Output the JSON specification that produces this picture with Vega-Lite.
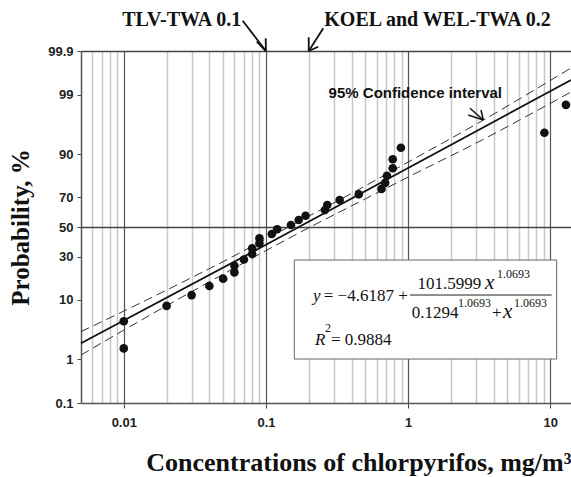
{
  "$schema": "https://vega.github.io/schema/vega-lite/v6.json",
  "width": 490,
  "height": 352,
  "autosize": {"type": "none"},
  "padding": {"left": 81, "top": 51, "right": 0, "bottom": 74},
  "background": "white",
  "config": {"view": {"stroke": null}},
  "datasets": {
    "points": [
      {"x": 0.01, "p": 4.9}, {"x": 0.01, "p": 1.65}, {"x": 0.02, "p": 8.3}, {"x": 0.03, "p": 11.6},
      {"x": 0.04, "p": 15.0}, {"x": 0.05, "p": 18.2}, {"x": 0.06, "p": 21.3}, {"x": 0.06, "p": 24.8},
      {"x": 0.07, "p": 28.4}, {"x": 0.08, "p": 31.8}, {"x": 0.08, "p": 35.4}, {"x": 0.09, "p": 38.7},
      {"x": 0.09, "p": 42.1}, {"x": 0.11, "p": 45.1}, {"x": 0.12, "p": 48.4}, {"x": 0.15, "p": 51.4},
      {"x": 0.17, "p": 54.9}, {"x": 0.19, "p": 57.8}, {"x": 0.26, "p": 61.7}, {"x": 0.27, "p": 65.0},
      {"x": 0.33, "p": 68.2}, {"x": 0.45, "p": 71.7}, {"x": 0.65, "p": 74.8}, {"x": 0.69, "p": 78.1},
      {"x": 0.71, "p": 81.6}, {"x": 0.78, "p": 84.9}, {"x": 0.78, "p": 88.3}, {"x": 0.89, "p": 91.8},
      {"x": 9.1, "p": 95.1}, {"x": 12.9, "p": 98.4}
    ],
    "curves": [
      {"s": "fit", "x": 0.005, "p": 2.056}, {"s": "fit", "x": 0.1, "p": 37.72}, {"s": "fit", "x": 14, "p": 99.507},
      {"s": "upper", "x": 0.005, "p": 3.311}, {"s": "upper", "x": 0.01, "p": 6.984}, {"s": "upper", "x": 0.02, "p": 13.39},
      {"s": "upper", "x": 0.05, "p": 27.17}, {"s": "upper", "x": 0.1, "p": 41.65}, {"s": "upper", "x": 0.2, "p": 57.51},
      {"s": "upper", "x": 0.5, "p": 76.47}, {"s": "upper", "x": 1, "p": 87.27}, {"s": "upper", "x": 3.16, "p": 96.673},
      {"s": "upper", "x": 14, "p": 99.738},
      {"s": "lower", "x": 0.005, "p": 1.229}, {"s": "lower", "x": 0.01, "p": 3.51}, {"s": "lower", "x": 0.02, "p": 8.35},
      {"s": "lower", "x": 0.05, "p": 20.36}, {"s": "lower", "x": 0.1, "p": 33.92}, {"s": "lower", "x": 0.2, "p": 49.43},
      {"s": "lower", "x": 0.5, "p": 68.91}, {"s": "lower", "x": 1, "p": 80.95}, {"s": "lower", "x": 3.16, "p": 93.33},
      {"s": "lower", "x": 14, "p": 99.112}
    ],
    "box": [{"x": 0.1583, "x2": 11.1, "z": -0.5797, "z2": -2.318}],
    "bar": [{"x": 1.0315, "x2": 10.24, "z": -1.1943, "z2": -1.1943}],
    "arrows": [
      {"x": 0.0686, "z": 3.622, "x2": 0.1, "z2": 3.0902},
      {"x": 0.0861, "z": 3.2535, "x2": 0.1, "z2": 3.0902},
      {"x": 0.0996, "z": 3.3132, "x2": 0.1, "z2": 3.0902},
      {"x": 0.2532, "z": 3.4888, "x2": 0.2, "z2": 3.0902},
      {"x": 0.2, "z": 3.3308, "x2": 0.2, "z2": 3.0902},
      {"x": 0.2335, "z": 3.1657, "x2": 0.2, "z2": 3.0902}
    ],
    "arrowci": [
      {"x": 2.726, "z": 2.0841, "x2": 3.381, "z2": 1.8786},
      {"x": 2.652, "z": 1.9664, "x2": 3.381, "z2": 1.8786},
      {"x": 3.258, "z": 2.0542, "x2": 3.381, "z2": 1.8786}
    ],
    "toptext": [
      {"x": 0.02555, "z": 3.529, "t": "TLV-TWA 0.1"},
      {"x": 1.61, "z": 3.529, "t": "KOEL and WEL-TWA 0.2"}
    ],
    "citext": [{"x": 1.124, "z": 2.2596, "t": "95% Confidence interval"}],
    "eq_ital": [{"x": 0.2144, "z": -1.2909, "t": "y"}, {"x": 0.2215, "z": -2.0722, "t": "R"}],
    "eq_x": [{"x": 3.475, "z": -1.0889, "t": "x"}, {"x": 4.653, "z": -1.5981, "t": "x"}],
    "eq_main": [
      {"x": 0.255, "z": -1.2909, "t": "= −4.6187 +"},
      {"x": 1.166, "z": -1.0889, "t": "101.5999"},
      {"x": 1.06, "z": -1.5981, "t": "0.1294"},
      {"x": 3.893, "z": -1.5981, "t": "+"},
      {"x": 0.2869, "z": -2.0722, "t": "= 0.9884"}
    ],
    "eq_sup": [
      {"x": 4.222, "z": -0.8958, "t": "1.0693"},
      {"x": 2.245, "z": -1.3997, "t": "1.0693"},
      {"x": 5.559, "z": -1.405, "t": "1.0693"},
      {"x": 0.2603, "z": -1.844, "t": "2"}
    ]
  },
  "encoding": {
    "x": {
      "field": "x", "type": "quantitative",
      "scale": {"type": "log", "domain": [0.005, 14], "nice": false, "zero": false},
      "axis": {
        "values": [0.006, 0.007, 0.008, 0.009, 0.01, 0.02, 0.03, 0.04, 0.05, 0.06, 0.07, 0.08, 0.09, 0.1, 0.2, 0.3, 0.4, 0.5, 0.6, 0.7, 0.8, 0.9, 1, 2, 3, 4, 5, 6, 7, 8, 9, 10],
        "format": "~g",
        "labelExpr": "abs(log(datum.value)/LN10 - round(log(datum.value)/LN10)) < 0.000001 ? datum.label : ''",
        "labelOverlap": false, "labelFlush": false, "labelBound": false,
        "labelFont": "Liberation Sans", "labelFontWeight": "bold", "labelFontSize": 13, "labelColor": "#222", "labelPadding": 8,
        "tickSize": 5,
        "tickColor": {"condition": {"test": "abs(log(datum.value)/LN10 - round(log(datum.value)/LN10)) < 0.000001", "value": "#444"}, "value": "transparent"},
        "domainColor": "#555", "domainWidth": 1.5,
        "grid": true,
        "gridColor": {"condition": {"test": "abs(log(datum.value)/LN10 - round(log(datum.value)/LN10)) < 0.000001", "value": "#555"}, "value": "#c8c8c8"},
        "gridWidth": {"condition": {"test": "abs(log(datum.value)/LN10 - round(log(datum.value)/LN10)) < 0.000001", "value": 1.2}, "value": 1.5},
        "title": "Concentrations of chlorpyrifos, mg/m³",
        "titleFont": "Liberation Serif", "titleFontSize": 26, "titleFontWeight": "bold", "titleColor": "#111",
        "titleAnchor": "end", "titlePadding": 20
      }
    },
    "y": {
      "field": "z", "type": "quantitative",
      "scale": {"domain": [-3.0902, 3.0902], "nice": false, "zero": false},
      "axis": {
        "values": [-3.0902, -2.3263, -1.2816, -0.5244, 0, 0.5244, 1.2816, 2.3263, 3.0902],
        "labelExpr": "datum.value < -3 ? '0.1' : datum.value < -2 ? '1' : datum.value < -1 ? '10' : datum.value < -0.3 ? '30' : datum.value < 0.3 ? '50' : datum.value < 1 ? '70' : datum.value < 2 ? '90' : datum.value < 3 ? '99' : '99.9'",
        "labelOverlap": false, "labelFlush": false, "labelBound": false,
        "labelFont": "Liberation Sans", "labelFontWeight": "bold", "labelFontSize": 13, "labelColor": "#222", "labelPadding": 4,
        "tickSize": 4, "tickColor": "#444",
        "domainColor": "#555", "domainWidth": 1.5,
        "grid": true,
        "gridColor": {"condition": {"test": "abs(datum.value) < 0.01 || datum.value > 3", "value": "#444"}, "value": "transparent"},
        "gridWidth": 1.3,
        "title": "Probability, %",
        "titleFont": "Liberation Serif", "titleFontSize": 25, "titleFontWeight": "bold", "titleColor": "#111",
        "titlePadding": 14
      }
    }
  },
  "layer": [
    {
      "data": {"name": "box"},
      "mark": {"type": "rect", "fill": "white", "stroke": "#666", "strokeWidth": 1},
      "encoding": {"x2": {"field": "x2"}, "y2": {"field": "z2"}}
    },
    {
      "data": {"name": "curves"},
      "transform": [{"filter": "datum.s !== 'fit'"}, {"calculate": "quantileNormal(datum.p/100)", "as": "z"}],
      "mark": {"type": "line", "color": "#333", "strokeWidth": 1, "strokeDash": [9, 5], "interpolate": "monotone"},
      "encoding": {"detail": {"field": "s"}}
    },
    {
      "data": {"name": "curves"},
      "transform": [{"filter": "datum.s === 'fit'"}, {"calculate": "quantileNormal(datum.p/100)", "as": "z"}],
      "mark": {"type": "line", "color": "#111", "strokeWidth": 1.8},
      "encoding": {}
    },
    {
      "data": {"name": "points"},
      "transform": [{"calculate": "quantileNormal(datum.p/100)", "as": "z"}],
      "mark": {"type": "circle", "size": 75, "color": "#111", "opacity": 1}
    },
    {
      "data": {"name": "bar"},
      "mark": {"type": "rule", "color": "#222", "strokeWidth": 1},
      "encoding": {"x2": {"field": "x2"}, "y2": {"field": "z2"}}
    },
    {
      "data": {"name": "arrows"},
      "mark": {"type": "rule", "color": "#111", "strokeWidth": 1.8},
      "encoding": {"x2": {"field": "x2"}, "y2": {"field": "z2"}}
    },
    {
      "data": {"name": "arrowci"},
      "mark": {"type": "rule", "color": "#111", "strokeWidth": 1.5},
      "encoding": {"x2": {"field": "x2"}, "y2": {"field": "z2"}}
    },
    {
      "data": {"name": "toptext"},
      "mark": {"type": "text", "font": "Liberation Serif", "fontWeight": "bold", "fontSize": 20, "align": "center", "baseline": "alphabetic", "color": "#111"},
      "encoding": {"text": {"field": "t"}}
    },
    {
      "data": {"name": "citext"},
      "mark": {"type": "text", "font": "Liberation Sans", "fontWeight": "bold", "fontSize": 15, "align": "center", "baseline": "alphabetic", "color": "#111"},
      "encoding": {"text": {"field": "t"}}
    },
    {
      "data": {"name": "eq_ital"},
      "mark": {"type": "text", "font": "Liberation Serif", "fontStyle": "italic", "fontSize": 17, "align": "left", "baseline": "alphabetic", "color": "#111"},
      "encoding": {"text": {"field": "t"}}
    },
    {
      "data": {"name": "eq_x"},
      "mark": {"type": "text", "font": "Liberation Serif", "fontStyle": "italic", "fontSize": 21, "align": "left", "baseline": "alphabetic", "color": "#111"},
      "encoding": {"text": {"field": "t"}}
    },
    {
      "data": {"name": "eq_main"},
      "mark": {"type": "text", "font": "Liberation Serif", "fontSize": 17, "align": "left", "baseline": "alphabetic", "color": "#111"},
      "encoding": {"text": {"field": "t"}}
    },
    {
      "data": {"name": "eq_sup"},
      "mark": {"type": "text", "font": "Liberation Serif", "fontSize": 12, "align": "left", "baseline": "alphabetic", "color": "#111"},
      "encoding": {"text": {"field": "t"}}
    }
  ]
}
